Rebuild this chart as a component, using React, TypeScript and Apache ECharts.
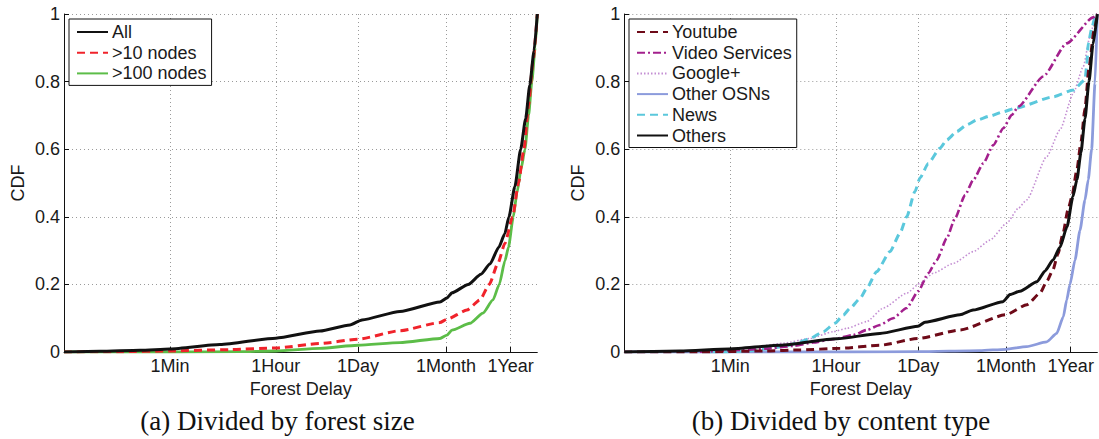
import React, { useEffect, useRef } from "react";
import * as echarts from "echarts";

// Forest delay in log10(seconds); CDF in [0, 1]
const tickLabels = ["1Min", "1Hour", "1Day", "1Month", "1Year"];
const tickSeconds = [60, 3600, 86400, 2592000, 31536000];
const xMaxLog = 7.946;

// (a) Divided by forest size
const allForests: [number, number][] = [
  [0, 0], [0.604, 0.002], [1.276, 0.005], [1.778, 0.009], [2.619, 0.022], [3.556, 0.041],
  [4.297, 0.062], [4.801, 0.08], [5.003, 0.095], [5.64, 0.12], [6.312, 0.148], [6.43, 0.16],
  [6.513, 0.175], [6.787, 0.2], [7.0, 0.23], [7.15, 0.26], [7.3, 0.31], [7.4, 0.35],
  [7.47, 0.4], [7.57, 0.49], [7.667, 0.6], [7.75, 0.69], [7.82, 0.79], [7.89, 0.89], [7.946, 1],
];
const over10Nodes: [number, number][] = [
  [0, 0], [0.94, 0.001], [1.778, 0.003], [2.787, 0.007], [3.556, 0.012], [4.297, 0.025],
  [4.935, 0.038], [5.64, 0.063], [6.312, 0.087], [6.43, 0.097], [6.765, 0.124], [6.983, 0.154],
  [7.14, 0.2], [7.286, 0.263], [7.403, 0.322], [7.532, 0.4], [7.63, 0.5], [7.722, 0.6],
  [7.8, 0.73], [7.873, 0.86], [7.946, 1],
];
const over100Nodes: [number, number][] = [
  [0, 0], [1.778, 0.0], [2.955, 0.001], [3.556, 0.003], [4.297, 0.011], [4.935, 0.02],
  [5.64, 0.028], [6.312, 0.04], [6.43, 0.05], [6.513, 0.065], [6.816, 0.085], [7.034, 0.115],
  [7.202, 0.154], [7.308, 0.2], [7.403, 0.27], [7.462, 0.31], [7.543, 0.4], [7.604, 0.47],
  [7.672, 0.54], [7.739, 0.6], [7.8, 0.7], [7.855, 0.8], [7.91, 0.9], [7.946, 1],
];

// (b) Divided by content type
const youtube: [number, number][] = [
  [0, 0], [1.272, 0.0], [2.392, 0.003], [2.951, 0.006], [3.623, 0.011], [4.295, 0.02],
  [4.934, 0.04], [5.639, 0.065], [6.407, 0.11], [6.765, 0.14], [6.983, 0.174], [7.101, 0.21],
  [7.201, 0.243], [7.285, 0.29], [7.369, 0.35], [7.453, 0.42], [7.52, 0.46], [7.604, 0.54],
  [7.671, 0.62], [7.739, 0.72], [7.806, 0.84], [7.89, 0.95], [7.946, 1],
];
const videoServices: [number, number][] = [
  [1.27, 0.0], [1.994, 0.006], [2.392, 0.01], [2.839, 0.018], [3.175, 0.028], [3.511, 0.038],
  [3.847, 0.05], [4.072, 0.065], [4.295, 0.08], [4.514, 0.1], [4.744, 0.13], [4.939, 0.18],
  [5.107, 0.233], [5.248, 0.272], [5.416, 0.336], [5.555, 0.395], [5.723, 0.464], [5.863, 0.509],
  [6.031, 0.558], [6.199, 0.612], [6.367, 0.662], [6.508, 0.701], [6.619, 0.726], [7.038, 0.815],
  [7.431, 0.913], [7.878, 0.99], [7.946, 1],
];
const googlePlus: [number, number][] = [
  [1.27, 0.001], [1.826, 0.006], [2.112, 0.011], [2.392, 0.02], [2.671, 0.026], [3.119, 0.04],
  [3.511, 0.06], [3.736, 0.07], [4.072, 0.09], [4.351, 0.13], [4.744, 0.174], [4.967, 0.203],
  [5.191, 0.233], [5.527, 0.262], [5.863, 0.297], [6.143, 0.331], [6.424, 0.381], [6.619, 0.425],
  [6.76, 0.45], [7.096, 0.578], [7.319, 0.657], [7.542, 0.765], [7.71, 0.844], [7.823, 0.933],
  [7.907, 0.985], [7.946, 1],
];
const otherOSNs: [number, number][] = [
  [0, 0], [3.791, 0.0], [4.934, 0.001], [5.975, 0.004], [6.407, 0.008], [6.76, 0.016],
  [7.096, 0.03], [7.264, 0.055], [7.375, 0.104], [7.432, 0.154], [7.487, 0.2], [7.571, 0.272],
  [7.655, 0.36], [7.739, 0.45], [7.794, 0.51], [7.851, 0.6], [7.907, 0.795], [7.946, 1],
];
const news: [number, number][] = [
  [1.44, 0.0], [1.826, 0.001], [2.112, 0.004], [2.392, 0.009], [2.671, 0.016], [2.896, 0.026],
  [3.119, 0.04], [3.343, 0.06], [3.539, 0.085], [3.679, 0.109], [3.791, 0.129], [3.959, 0.158],
  [4.072, 0.188], [4.24, 0.238], [4.463, 0.297], [4.631, 0.351], [4.744, 0.4], [4.883, 0.475],
  [4.967, 0.515], [5.107, 0.558], [5.303, 0.603], [5.416, 0.627], [5.584, 0.652], [5.752, 0.672],
  [5.92, 0.686], [6.143, 0.698], [6.367, 0.711], [6.563, 0.721], [7.207, 0.755], [7.542, 0.775],
  [7.739, 0.805], [7.767, 0.844], [7.794, 0.913], [7.856, 0.96], [7.907, 0.99], [7.946, 1],
];
const others: [number, number][] = [
  [0, 0], [0.936, 0.003], [1.764, 0.009], [2.616, 0.02], [3.568, 0.039], [4.295, 0.055],
  [4.934, 0.076], [5.051, 0.088], [5.639, 0.11], [5.858, 0.124], [6.362, 0.149], [6.479, 0.17],
  [6.647, 0.18], [6.933, 0.208], [7.068, 0.24], [7.201, 0.272], [7.319, 0.31], [7.436, 0.37],
  [7.537, 0.46], [7.604, 0.51], [7.671, 0.59], [7.739, 0.69], [7.806, 0.8], [7.873, 0.91],
  [7.946, 1],
];

const sans = "'Liberation Sans', Arial, Helvetica, sans-serif";
const serif = "'Liberation Serif', 'DejaVu Serif', serif";
const ink = "#1a1a1a";
const gridDots = { color: "#9a9a9a", width: 1, type: [1, 3] as number[] };

const tickLogs = tickSeconds.map((s) => Math.log10(s));

function tickName(v: number): string {
  let best = 0;
  for (let i = 1; i < tickLogs.length; i++) {
    if (Math.abs(tickLogs[i] - v) < Math.abs(tickLogs[best] - v)) best = i;
  }
  return Math.abs(tickLogs[best] - v) < 1e-3 ? tickLabels[best] : "";
}

function xAxisFor(gridIndex: number) {
  return {
    type: "value",
    gridIndex,
    min: 0,
    max: xMaxLog,
    name: "Forest Delay",
    nameLocation: "middle",
    nameGap: 22,
    nameTextStyle: { fontFamily: sans, fontSize: 18, color: ink },
    axisLine: { show: true, onZero: false, lineStyle: { color: "#111", width: 1 } },
    axisTick: { show: true, inside: true, length: 5, customValues: tickLogs, lineStyle: { color: "#111" } },
    axisLabel: {
      customValues: tickLogs,
      margin: 5,
      fontFamily: sans,
      fontSize: 18,
      color: ink,
      formatter: (v: number) => tickName(v),
    },
    splitLine: { show: true, lineStyle: gridDots },
  };
}

function yAxisFor(gridIndex: number) {
  return {
    type: "value",
    gridIndex,
    min: 0,
    max: 1,
    interval: 0.2,
    name: "CDF",
    nameLocation: "middle",
    nameGap: 37,
    nameTextStyle: { fontFamily: sans, fontSize: 18, color: ink },
    axisLine: { show: true, lineStyle: { color: "#111", width: 1 } },
    axisTick: { show: true, inside: true, length: 5, lineStyle: { color: "#111" } },
    axisLabel: { margin: 4, fontFamily: sans, fontSize: 18, color: ink },
    splitLine: { show: true, lineStyle: gridDots },
  };
}

function curve(name: string, data: [number, number][], idx: number, color: string, width: number, type: any) {
  return {
    type: "line",
    name,
    xAxisIndex: idx,
    yAxisIndex: idx,
    data,
    symbol: "none",
    showSymbol: false,
    smooth: 0.2,
    smoothMonotone: "x",
    lineStyle: { color, width, type },
    itemStyle: { color, opacity: 0 },
    emphasis: { disabled: true },
  };
}

function legendFor(names: string[], left: number) {
  return {
    orient: "vertical",
    left,
    top: 19,
    data: names,
    itemWidth: 31,
    itemHeight: 14,
    itemGap: 2.7,
    padding: [4, 5, 3, 7],
    borderColor: "#111",
    borderWidth: 1,
    borderRadius: 0,
    backgroundColor: "#ffffff",
    selectedMode: false,
    itemStyle: { opacity: 0 },
    textStyle: { fontFamily: sans, fontSize: 18, color: ink, padding: [0, 0, 0, -1] },
  };
}

function caption(text: string, x: number) {
  return {
    type: "text",
    x,
    y: 421,
    style: {
      text,
      textAlign: "center",
      textVerticalAlign: "middle",
      fontFamily: serif,
      fontSize: 27,
      fill: "#111",
    },
  };
}

export default function App() {
  const ref = useRef<HTMLDivElement>(null);

  useEffect(() => {
    document.body.style.margin = "0";
    if (!ref.current) return;
    const chart = echarts.init(ref.current, undefined, { renderer: "svg" });
    chart.setOption({
      animation: false,
      backgroundColor: "#ffffff",
      grid: [
        { left: 64, top: 14, width: 473.3, height: 338, containLabel: false },
        { left: 624.3, top: 14, width: 473, height: 338, containLabel: false },
      ],
      xAxis: [xAxisFor(0), xAxisFor(1)],
      yAxis: [yAxisFor(0), yAxisFor(1)],
      legend: [
        legendFor(["All", ">10 nodes", ">100 nodes"], 69),
        legendFor(["Youtube", "Video Services", "Google+", "Other OSNs", "News", "Others"], 629),
      ],
      series: [
        curve(">100 nodes", over100Nodes, 0, "#5cbd48", 2.8, "solid"),
        curve(">10 nodes", over10Nodes, 0, "#f0232b", 3, [8, 5]),
        curve("All", allForests, 0, "#111111", 3, "solid"),
        curve("Other OSNs", otherOSNs, 1, "#8c9bdc", 2.8, "solid"),
        curve("Google+", googlePlus, 1, "#c48fd3", 1.6, [1.5, 2]),
        curve("News", news, 1, "#5bc8dc", 3, [8, 5]),
        curve("Video Services", videoServices, 1, "#a3208d", 2.6, [8, 3, 2, 3]),
        curve("Youtube", youtube, 1, "#6e0a18", 3, [8, 5]),
        curve("Others", others, 1, "#111111", 3, "solid"),
      ],
      graphic: [
        caption("(a) Divided by forest size", 277.5),
        caption("(b) Divided by content type", 841),
      ],
    });
    return () => chart.dispose();
  }, []);

  return <div ref={ref} style={{ width: 1099, height: 439 }} />;
}
